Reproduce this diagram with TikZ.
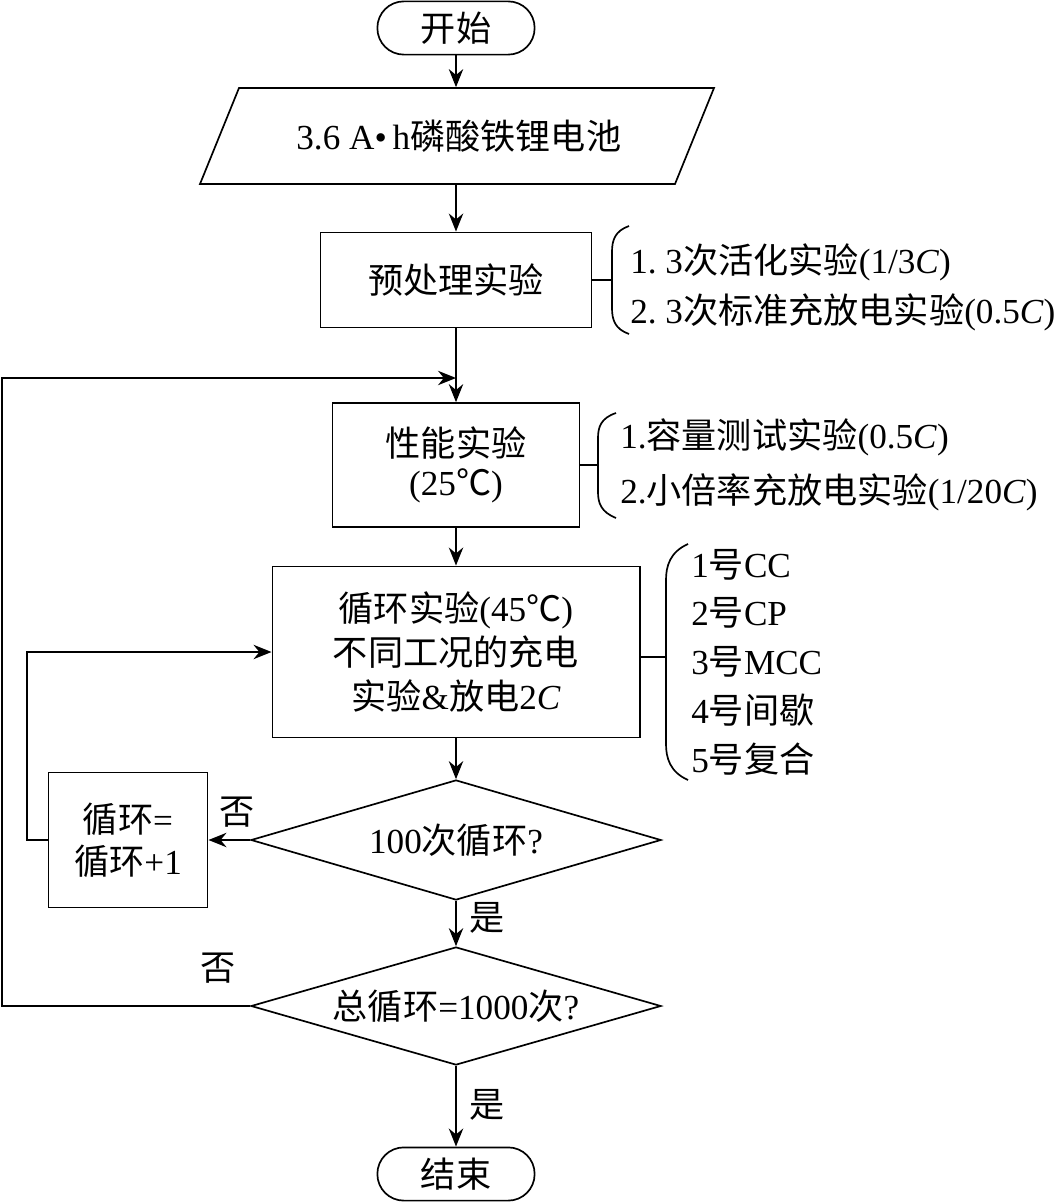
\documentclass[tikz,border=0pt]{standalone}
\usepackage{fontspec}
\setmainfont{Liberation Serif}
\newfontfamily\cjk{Noto Sans CJK SC}
\newcommand{\zh}[1]{{\cjk #1}}
\usetikzlibrary{arrows.meta,positioning,calc,shapes.geometric}
\frenchspacing
\tikzset{
  base/.style={draw, line width=1.2pt, align=center, inner sep=2pt, font=\fontsize{25}{31}\selectfont},
  termbox/.style={base, rounded corners=0.66cm, minimum width=3.93cm, minimum height=1.33cm},
  procbox/.style={base},
  decbox/.style={base, diamond, aspect=3.4, inner sep=0pt, minimum width=10.25cm, minimum height=3cm},
  note/.style={align=left, anchor=west, inner sep=0pt},
  lbl/.style={inner sep=0pt, font=\fontsize{25}{30}\selectfont},
  arr/.style={-{Stealth[length=4.5mm, width=3.6mm]}, line width=1.2pt},
  ln/.style={line width=1.2pt}
}
\begin{document}
\begin{tikzpicture}[x=0.025cm, y=-0.025cm]
\useasboundingbox (0,0) rectangle (1056,1202);
% main column
\node[termbox] (start) at (456,28) {\zh{开始}};
\node[base, draw=none, minimum width=11.9cm, minimum height=2.4cm] (batt) at (456,136) {\hspace{4pt}3.6 A•\,h\zh{磷酸铁锂电池}};
\draw[ln] (239,88) -- (714,88) -- (675,184) -- (200,184) -- cycle;
\node[procbox, minimum width=6.78cm, minimum height=2.38cm] (prep) at (456,280) {\zh{预处理实验}};
\node[procbox, minimum width=6.18cm, minimum height=3.1cm, font=\fontsize{25}{28}\selectfont] (perf) at (456,465) {\zh{性能实验}\\(25\zh{℃})};
\node[procbox, minimum width=9.18cm, minimum height=4.28cm, font=\fontsize{25}{31}\selectfont] (cyc) at (456,652) {\zh{循环实验}(45\zh{℃})\\\zh{不同工况的充电}\\\zh{实验}\&\zh{放电}2\textit{C}};
\node[decbox] (chk) at (456,840) {100\zh{次循环}?};
\node[procbox, minimum width=3.98cm, minimum height=3.38cm, font=\fontsize{25}{30}\selectfont] (inc) at (128,840) {\zh{循环}=\\\zh{循环}+1};
\node[decbox, minimum height=2.95cm] (total) at (456,1006) {\zh{总循环}=1000\zh{次}?};
\node[termbox] (end) at (456,1174) {\zh{结束}};
% free ends of the loops
\coordinate (merge) at (456,378);
\coordinate (outerL) at (2,1006);
\coordinate (innerL) at (27,840);
% connectors
\draw[arr] (start) -- (batt);
\draw[arr] (batt) -- (prep);
\draw[arr] (prep) -- (perf);
\draw[arr] (perf) -- (cyc);
\draw[arr] (cyc) -- (chk);
\draw[arr] (chk) -- (inc);
\draw[arr] (chk) -- (total);
\draw[arr] (total) -- (end);
\draw[arr] (inc.west) -- (innerL) |- (cyc.west);
\draw[arr] (total.west) -- (outerL) |- (merge);
% yes / no
\node[lbl] (no1) at (237,812) {\zh{否}};
\node[lbl] (yes1) at (487,918) {\zh{是}};
\node[lbl] (no2) at (218,968) {\zh{否}};
\node[lbl] (yes2) at (487,1105) {\zh{是}};
% side notes with brackets
\coordinate (b1) at (612,280);
\coordinate (b2) at (598,465);
\coordinate (b3) at (666,657);
\draw[ln] (prep.east) -- (b1);
\draw[ln] (629,226) .. controls (615,231) and (612,240) .. (612,252) -- (612,308) .. controls (612,320) and (615,329) .. (629,334);
\draw[ln] (perf.east) -- (b2);
\draw[ln] (616,413) .. controls (601,418) and (598,427) .. (598,438) -- (598,492) .. controls (598,503) and (601,512) .. (616,518);
\draw[ln] (b3 -| cyc.east) -- (b3);
\draw[ln] (688,544) .. controls (670,552) and (666,566) .. (666,580) -- (666,744) .. controls (666,758) and (670,772) .. (688,780);
\node[note, font=\fontsize{25}{35.4}\selectfont] (pnote) at (630,287) {1. 3\zh{次活化实验}(1/3\textit{C})\\2. 3\zh{次标准充放电实验}(0.5\textit{C})};
\node[note, font=\fontsize{25}{39}\selectfont] (fnote) at (620,465) {1.\zh{容量测试实验}(0.5\textit{C})\\2.\zh{小倍率充放电实验}(1/20\textit{C})};
\node[note, font=\fontsize{25}{34.7}\selectfont] (cnote) at (691,662) {1\zh{号}CC\\2\zh{号}CP\\3\zh{号}MCC\\4\zh{号间歇}\\5\zh{号复合}};
\end{tikzpicture}
\end{document}
